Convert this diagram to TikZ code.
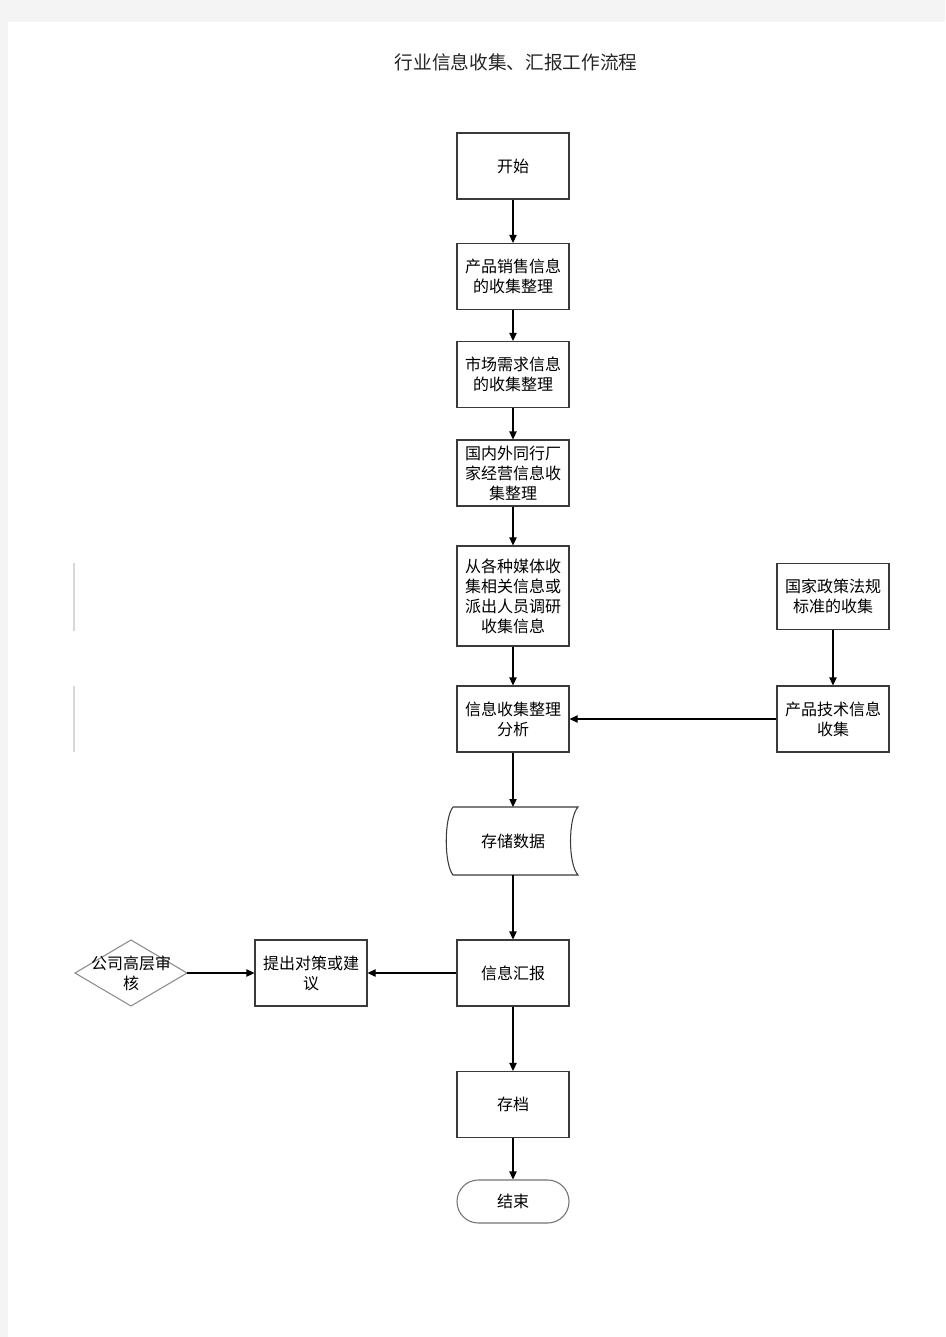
\documentclass[tikz,border=0pt]{standalone}
\usepackage{fontspec}
\setmainfont{Noto Sans CJK SC}
\newfontfamily\cjk{Noto Sans CJK SC}
\usetikzlibrary{arrows.meta}
\definecolor{pagegray}{HTML}{F4F4F4}
\definecolor{boxline}{HTML}{3A3A3A}
\definecolor{faint}{HTML}{D8D8D8}
\tikzset{
  px/.style={x=0.75pt,y=-0.75pt},
  boxnode/.style={draw=boxline, line width=0.8pt, fill=white, minimum width=84pt, minimum height=49.5pt, inner sep=0pt, align=center, font=\cjk\fontsize{12}{15}\selectfont},
  plain/.style={inner sep=0pt, align=center, font=\cjk\fontsize{12}{15}\selectfont},
  conn/.style={draw=black, line width=0.8pt, -{Triangle[length=6pt,width=5.5pt]}},
}
\begin{document}
\begin{tikzpicture}[px]
\fill[pagegray] (0,0) rectangle (945,1337);
\fill[white] (8,22) rectangle (945,1337);
\useasboundingbox (0,0) rectangle (945,1337);
% title
\node[inner sep=0pt, font=\cjk\fontsize{14}{16}\selectfont, text=black!85] (title) at (516,62) {行业信息收集、汇报工作流程};
% faint artifacts
\draw[faint, line width=0.8pt] (74,563) -- (74,631);
\draw[faint, line width=0.8pt] (74,686) -- (74,752);
% main column
\node[boxnode] (start) at (513,166) {开始};
\node[boxnode] (sales) at (513,276.5) {产品销售信息\\的收集整理};
\node[boxnode] (market) at (513,374.5) {市场需求信息\\的收集整理};
\node[boxnode] (peer) at (513,473) {国内外同行厂\\家经营信息收\\集整理};
\node[boxnode, minimum height=75pt] (media) at (513,596) {从各种媒体收\\集相关信息或\\派出人员调研\\收集信息};
\node[boxnode] (analyze) at (513,719) {信息收集整理\\分析};
\node[boxnode] (policy) at (833,596.5) {国家政策法规\\标准的收集};
\node[boxnode] (tech) at (833,719) {产品技术信息\\收集};
% storage shape
\draw[boxline, line width=0.8pt, fill=white] (453,807) -- (578,807)
  .. controls (568,818) and (568,864) .. (578,875) -- (453,875)
  .. controls (444,864) and (444,818) .. (453,807);
\node[plain] (store) at (513,841) {存储数据};
\coordinate (storetop) at (513,807);
\coordinate (storebot) at (513,875);
\node[boxnode] (report) at (513,973) {信息汇报};
\node[boxnode] (suggest) at (311,973) {提出对策或建\\议};
% diamond
\draw[black!45, line width=0.8pt, fill=white] (75,973) -- (131,940) -- (187,973) -- (131,1006) -- cycle;
\node[plain] (review) at (131,973) {公司高层审\\核};
\coordinate (revright) at (187,973);
\node[boxnode] (archive) at (513,1104.5) {存档};
\node[draw=black!55, line width=0.8pt, fill=white, minimum width=84pt, minimum height=32.25pt, rounded corners=16pt, inner sep=0pt, font=\cjk\fontsize{12}{15}\selectfont] (finish) at (513,1201.5) {结束};
% connectors
\draw[conn] (start) -- (sales);
\draw[conn] (sales) -- (market);
\draw[conn] (market) -- (peer);
\draw[conn] (peer) -- (media);
\draw[conn] (media) -- (analyze);
\draw[conn] (policy) -- (tech);
\draw[conn] (tech) -- (analyze);
\draw[conn] (analyze.south) -- (storetop);
\draw[conn] (storebot) -- (report.north);
\draw[conn] (report) -- (suggest);
\draw[conn] (revright) -- (suggest.west);
\draw[conn] (report) -- (archive);
\draw[conn] (archive) -- (finish);
\end{tikzpicture}
\end{document}
